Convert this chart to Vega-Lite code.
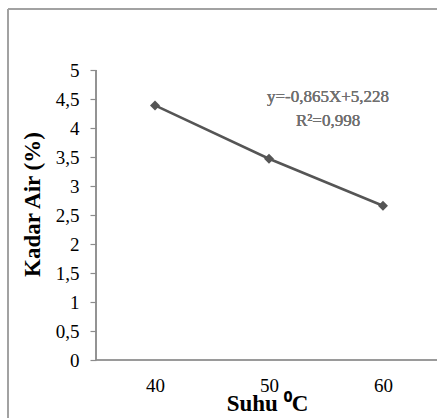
{
  "$schema": "https://vega.github.io/schema/vega-lite/v6.json",
  "width": 429,
  "height": 409,
  "autosize": {"type": "none"},
  "padding": {"left": 8, "top": 9, "right": 0, "bottom": 0},
  "background": "white",
  "config": {
    "view": {"stroke": null},
    "font": "Liberation Serif"
  },
  "data": {"values": [
    {"suhu": 40, "kadar": 4.39},
    {"suhu": 50, "kadar": 3.47},
    {"suhu": 60, "kadar": 2.66}
  ]},
  "layer": [
    {
      "mark": {"type": "rule", "color": "#a0a0a0", "strokeWidth": 1.5},
      "encoding": {
        "x": {"datum": 27.105, "type": "quantitative"},
        "y": {"datum": -1, "type": "quantitative"},
        "y2": {"datum": 6.052}
      }
    },
    {
      "mark": {"type": "rule", "color": "#a0a0a0", "strokeWidth": 1.5},
      "encoding": {
        "x": {"datum": 27.105, "type": "quantitative"},
        "x2": {"datum": 64.74},
        "y": {"datum": 6.052, "type": "quantitative"}
      }
    },
    {
      "mark": {"type": "rule", "color": "#8c8c8c", "strokeWidth": 1.2},
      "encoding": {
        "x": {"datum": 34.825, "type": "quantitative"},
        "y": {"datum": 0, "type": "quantitative"},
        "y2": {"datum": 5}
      }
    },
    {
      "mark": {"type": "rule", "color": "#8c8c8c", "strokeWidth": 1.2},
      "encoding": {
        "x": {"datum": 34.825, "type": "quantitative"},
        "x2": {"datum": 64.74},
        "y": {"datum": 0, "type": "quantitative"}
      }
    },
    {
      "mark": {"type": "line", "color": "#555555", "strokeWidth": 2.5},
      "encoding": {
        "x": {
          "field": "suhu", "type": "quantitative",
          "scale": {"domain": [27.105, 64.74], "nice": false, "zero": false},
          "axis": {
            "values": [40, 50, 60],
            "offset": -58,
            "domain": false,
            "ticks": false,
            "grid": false,
            "labelFont": "Liberation Serif",
            "labelFontSize": 19,
            "labelColor": "#000",
            "labelPadding": 16,
            "title": "Suhu ⁰C",
            "titleFont": "Liberation Serif",
            "titleFontSize": 23,
            "titleFontWeight": "bold",
            "titleColor": "#000",
            "titleX": 259,
            "titleY": 43,
            "titleAlign": "center",
            "titleBaseline": "middle"
          }
        },
        "y": {
          "field": "kadar", "type": "quantitative",
          "scale": {"domain": [-1, 6.052], "nice": false, "zero": false},
          "axis": {
            "values": [0, 0.5, 1, 1.5, 2, 2.5, 3, 3.5, 4, 4.5, 5],
            "format": ",.1~f",
            "labelExpr": "replace(datum.label, '.', ',')",
            "offset": -88,
            "domain": false,
            "ticks": true,
            "tickSize": 6,
            "tickColor": "#8c8c8c",
            "tickWidth": 1.2,
            "grid": false,
            "labelFont": "Liberation Serif",
            "labelFontSize": 19,
            "labelColor": "#000",
            "labelPadding": 11,
            "title": "Kadar Air (%)",
            "titleFont": "Liberation Serif",
            "titleFontSize": 23,
            "titleFontWeight": "bold",
            "titleColor": "#000",
            "titleAngle": -90,
            "titleX": -64,
            "titleY": 195,
            "titleAlign": "center",
            "titleBaseline": "middle"
          }
        }
      }
    },
    {
      "mark": {"type": "point", "shape": "diamond", "filled": true, "color": "#555555", "size": 100, "opacity": 1},
      "encoding": {
        "x": {"field": "suhu", "type": "quantitative"},
        "y": {"field": "kadar", "type": "quantitative"}
      }
    },
    {
      "mark": {"type": "text", "font": "Liberation Serif", "fontSize": 17, "fontWeight": "normal", "color": "#707070", "align": "center", "baseline": "middle"},
      "encoding": {
        "x": {"datum": 55.18, "type": "quantitative"},
        "y": {"datum": 4.53, "type": "quantitative"},
        "text": {"value": "y=-0,865X+5,228"}
      }
    },
    {
      "mark": {"type": "text", "font": "Liberation Serif", "fontSize": 17, "fontWeight": "normal", "color": "#707070", "align": "center", "baseline": "middle"},
      "encoding": {
        "x": {"datum": 55.18, "type": "quantitative"},
        "y": {"datum": 4.12, "type": "quantitative"},
        "text": {"value": "R²=0,998"}
      }
    }
  ]
}
